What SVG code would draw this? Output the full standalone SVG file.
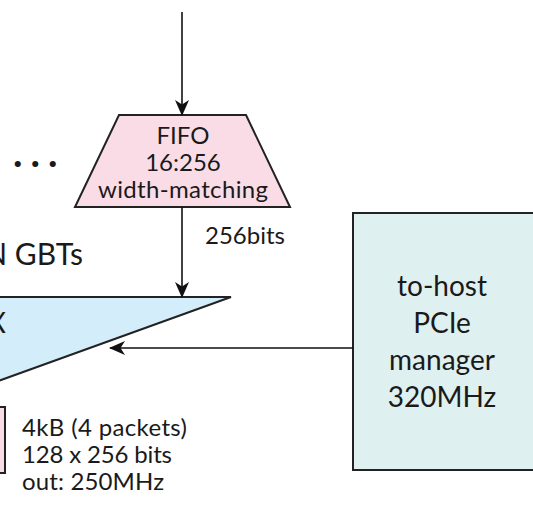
<svg xmlns="http://www.w3.org/2000/svg" width="533" height="515" viewBox="0 0 533 515">
<defs>
<marker id="ah" viewBox="0 0 16 14" refX="15" refY="7" markerWidth="16" markerHeight="14" markerUnits="userSpaceOnUse" orient="auto">
<path d="M0,0 L16,7 L0,14 L4.5,7 Z" fill="#111"/>
</marker>
<style>
.t{font-family:Lato,"Open Sans","Liberation Sans",sans-serif;fill:#1a1a1a}
.s{stroke:#222;stroke-width:2}
.c{fill:none;stroke:#111;stroke-width:1.6;marker-end:url(#ah)}
</style>
</defs>
<rect width="533" height="515" fill="#fff"/>
<g id="fifo">
<polygon class="s" points="119,115 246,115 290,207 75,207" fill="#fadce7"/>
<text class="t" x="183" y="144" font-size="24" text-anchor="middle">FIFO</text>
<text class="t" x="183" y="171" font-size="24" text-anchor="middle">16:256</text>
<text class="t" x="183" y="198" font-size="24" text-anchor="middle" textLength="170">width-matching</text>
</g>
<g id="mux">
<polygon class="s" points="-60,297 231,297 -60,402" fill="#d4edfb"/>
<text class="t" x="6" y="333" font-size="28" text-anchor="end">MUX</text>
</g>
<g id="pcie">
<rect class="s" x="353" y="213" width="200" height="257" fill="#dff0f0"/>
<text class="t" x="442" y="296" font-size="28" text-anchor="middle">to-host</text>
<text class="t" x="442" y="333" font-size="28" text-anchor="middle">PCIe</text>
<text class="t" x="442" y="370" font-size="28" text-anchor="middle">manager</text>
<text class="t" x="442" y="407" font-size="28" text-anchor="middle">320MHz</text>
</g>
<g id="buffer">
<rect class="s" x="-60" y="407" width="65" height="66" fill="#fadce7"/>
<text class="t" x="22" y="436" font-size="24" textLength="165">4kB (4 packets)</text>
<text class="t" x="22" y="463" font-size="24" textLength="150">128 x 256 bits</text>
<text class="t" x="22" y="490" font-size="24" textLength="142">out: 250MHz</text>
</g>
<g id="labels">
<text class="t" x="13" y="167" font-size="40" font-weight="bold" letter-spacing="8">...</text>
<text class="t" x="83" y="265" font-size="30" text-anchor="end">N GBTs</text>
<text class="t" x="205" y="244" font-size="24">256bits</text>
</g>
<g id="connectors">
<line class="c" x1="182" y1="12" x2="182" y2="115"/>
<line class="c" x1="182" y1="207" x2="182" y2="297"/>
<line class="c" x1="353" y1="348" x2="110" y2="348"/>
</g>
</svg>
